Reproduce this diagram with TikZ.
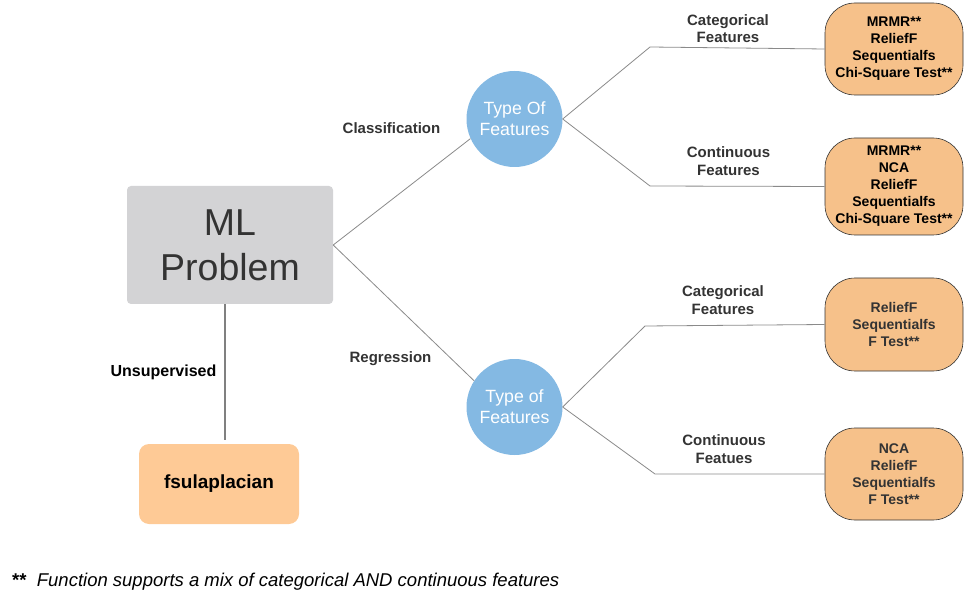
\documentclass[tikz,border=0pt]{standalone}
\usepackage{fontspec}
\setmainfont{Liberation Sans}
\definecolor{mlgray}{HTML}{D3D3D5}
\definecolor{textgray}{HTML}{333333}
\definecolor{fsuorange}{HTML}{FECA96}
\definecolor{methodorange}{HTML}{F6C18A}
\definecolor{circblue}{HTML}{84B9E3}
\definecolor{linegray}{HTML}{8A8A8A}
\begin{document}
\begin{tikzpicture}[
    x=1pt,
    y=-1pt,
    mlbox/.style={
      fill=mlgray,
      rounded corners=4pt,
      minimum width=206pt,
      minimum height=118pt,
      text=textgray,
      align=center,
      font=\fontsize{37.5}{45}\selectfont
    },
    fsubox/.style={
      fill=fsuorange,
      rounded corners=10pt,
      minimum width=160pt,
      minimum height=80pt,
      font=\fontsize{19}{22}\selectfont\bfseries
    },
    typecircle/.style={
      circle,
      fill=circblue,
      minimum size=96pt,
      inner sep=0pt,
      text=white,
      align=center,
      font=\fontsize{17.7}{21}\selectfont
    },
    methodbox/.style={
      draw=textgray,
      line width=0.6pt,
      fill=methodorange,
      rounded corners=30pt,
      minimum width=138pt,
      minimum height=92pt,
      align=center,
      font=\fontsize{14}{17}\selectfont\bfseries
    },
    edgelabel/.style={
      text=textgray,
      align=center,
      font=\fontsize{15}{17.5}\selectfont\bfseries
    },
    link/.style={
      draw=linegray,
      line width=0.8pt
    }
  ]
    \useasboundingbox (0, 0) rectangle (979, 601);

    \node[mlbox] (ml) at (230, 245) {ML\\Problem};
    \node[fsubox] (fsu) at (219, 484) {fsulaplacian};
    \node[typecircle] (ft1) at (514.5, 119) {Type Of\\Features};
    \node[typecircle] (ft2) at (514.5, 407) {Type of\\Features};

    \node[methodbox] (m1) at (894, 49) {MRMR**\\ReliefF\\Sequentialfs\\Chi-Square Test**};
    \node[methodbox, minimum height=97pt] (m2) at (894, 186.5) {MRMR**\\NCA\\ReliefF\\Sequentialfs\\Chi-Square Test**};
    \node[methodbox, text=textgray, minimum height=93pt] (m3) at (894, 324.5) {ReliefF\\Sequentialfs\\F Test**};
    \node[methodbox, text=textgray] (m4) at (894, 474) {NCA\\ReliefF\\Sequentialfs\\F Test**};

    \node[edgelabel] (lclass) at (391.5, 128) {Classification};
    \node[edgelabel] (lreg) at (390.5, 359) {Regression};
    \node[edgelabel, text=black, font=\fontsize{16}{18}\selectfont\bfseries] (lunsup) at (163.5, 372) {Unsupervised};
    \node[edgelabel] (lcat1) at (728, 28.5) {Categorical\\Features};
    \node[edgelabel] (lcon1) at (728.5, 161) {Continuous\\Features};
    \node[edgelabel] (lcat2) at (723, 300) {Categorical\\Features};
    \node[edgelabel] (lcon2) at (724, 449) {Continuous\\Featues};

    \coordinate (k1) at (650, 47);
    \coordinate (k2) at (650, 186);
    \coordinate (k3) at (645, 326);
    \coordinate (k4) at (655, 474);
    \coordinate (drop) at (225, 440);

    \draw[link] (ml.east) to (ft1.204);
    \draw[link] (ml.east) to (ft2.147);
    \draw[link, line width=1.4pt, draw=gray] (drop |- ml.south) to (drop);
    \draw[link] (ft1.east) -- (k1) -- (m1.west);
    \draw[link] (ft1.east) -- (k2) -- (m2.west);
    \draw[link] (ft2.east) -- (k3) -- (m3.west);
    \draw[link] (ft2.east) -- (k4) -- (m4.west);

    \node[anchor=base west, inner sep=0pt, font=\fontsize{18.5}{22}\selectfont] (note) at (12, 586)
      {\textbf{**}\ \ \textit{Function supports a mix of categorical AND continuous features}};
  \end{tikzpicture}
\end{document}
